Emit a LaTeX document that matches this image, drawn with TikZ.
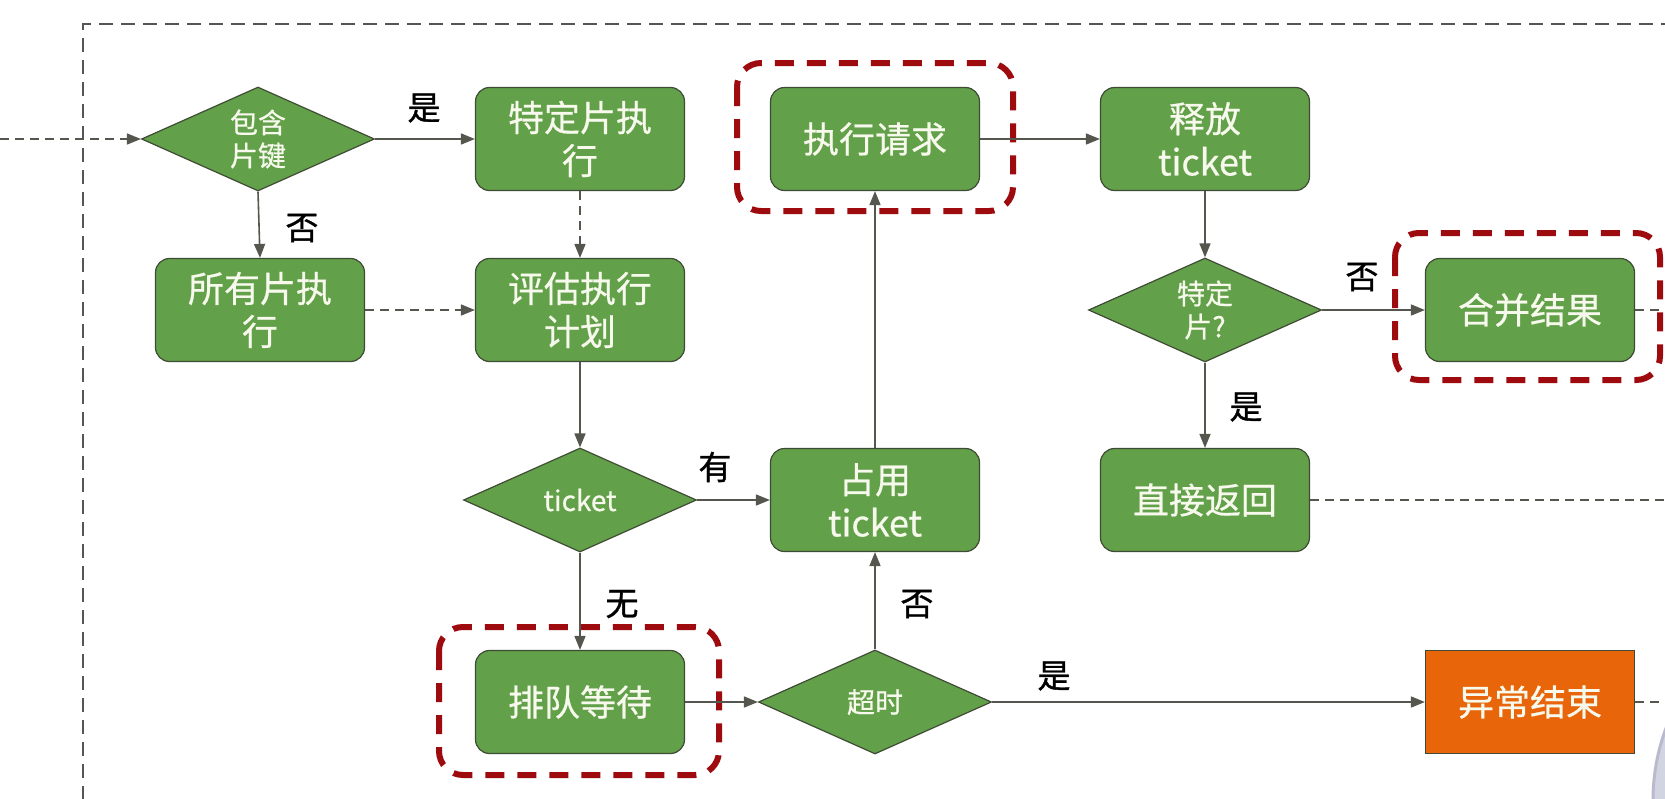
\documentclass[tikz,border=0pt]{standalone}
\usepackage{fontspec}
\setmainfont{Noto Sans CJK SC}
\newfontfamily\boxfont[FakeBold=0.6]{Noto Sans CJK SC}
\newfontfamily\tagfont[FakeBold=1.0]{Noto Sans CJK SC}
\usetikzlibrary{shapes.geometric,arrows.meta}

\definecolor{boxgreen}{HTML}{62A049}
\definecolor{boxedge}{HTML}{3F4B35}
\definecolor{boxtext}{HTML}{F6F9EC}
\definecolor{alarm}{HTML}{E8650A}
\definecolor{hilite}{HTML}{9E0B0F}
\definecolor{wire}{HTML}{55564D}
\definecolor{framegray}{HTML}{555555}
\definecolor{knob}{HTML}{D3D4E2}
\definecolor{knobedge}{HTML}{B9BBCC}

\tikzset{
  proc/.style={rectangle, rounded corners=14pt, draw=boxedge, line width=1.2pt,
    fill=boxgreen, text=boxtext, minimum width=209pt, minimum height=103pt,
    align=center, inner sep=0pt, font=\boxfont\fontsize{36}{43}\selectfont},
  finalbox/.style={proc, rounded corners=0pt, fill=alarm},
  decide/.style={diamond, shape aspect=2.24, draw=boxedge, line width=1.2pt,
    fill=boxgreen, text=boxtext, minimum width=233pt, minimum height=104pt,
    align=center, inner sep=0pt, font=\boxfont\fontsize{28}{33}\selectfont},
  flow/.style={draw=wire, line width=1.6pt, -{Triangle[length=14pt,width=11pt]}},
  softflow/.style={flow, dash pattern=on 9pt off 6pt},
  exitline/.style={draw=wire, line width=1.3pt, dash pattern=on 9pt off 6pt},
  hl/.style={draw=hilite, line width=6pt, dash pattern=on 19pt off 13pt, rounded corners=24pt},
  tag/.style={font=\tagfont\fontsize{33}{33}\selectfont, text=black, inner sep=0pt},
}

\begin{document}
\begin{tikzpicture}[x=1pt, y=-1pt]
\clip (0,0) rectangle (1665,798);
\fill[white] (0,0) rectangle (1665,798);

% open dashed frame around the flow
\draw[framegray, line width=1.3pt, dash pattern=on 14pt off 8pt] (83,800) -- (83,24) -- (1670,24);

% highlighted steps
\draw[hl] (737,63) rectangle (1013,211);
\draw[hl] (1395,233) rectangle (1660,380);
\draw[hl] (439,627) rectangle (719,775);

% nodes
\node[decide] (hasKey) at (258,139) {包含\\片键};
\node[proc] (oneShard) at (580,139) {特定片执\\行};
\node[proc] (allShards) at (260,310) {所有片执\\行};
\node[proc] (plan) at (580,310) {评估执行\\计划};
\node[decide] (ticket) at (580,500) {ticket};
\node[proc] (take) at (875,500) {占用\\ticket};
\node[proc] (queue) at (580,702) {排队等待};
\node[decide] (timeout) at (875,702) {超时};
\node[proc] (run) at (875,139) {执行请求};
\node[proc] (release) at (1205,139) {释放\\ticket};
\node[decide] (single) at (1205,310) {特定\\片?};
\node[proc] (merge) at (1530,310) {合并结果};
\node[proc] (direct) at (1205,500) {直接返回};
\node[finalbox] (fail) at (1530,702) {异常结束};

% entry and exits
\coordinate (entry) at (0,139);
\coordinate (mergeOut) at (1670,310);
\coordinate (directOut) at (1670,500);
\coordinate (failOut) at (1670,702);

\draw[softflow] (entry) -- (hasKey.west);
\draw[flow] (hasKey.east) -- (oneShard.west);
\draw[flow] (hasKey.south) -- (allShards.north);
\draw[softflow] (oneShard.south) -- (plan.north);
\draw[softflow] (allShards.east) -- (plan.west);
\draw[flow] (plan.south) -- (ticket.north);
\draw[flow] (ticket.east) -- (take.west);
\draw[flow] (ticket.south) -- (queue.north);
\draw[flow] (queue.east) -- (timeout.west);
\draw[flow] (timeout.north) -- (take.south);
\draw[flow] (timeout.east) -- (fail.west);
\draw[flow] (take.north) -- (run.south);
\draw[flow] (run.east) -- (release.west);
\draw[flow] (release.south) -- (single.north);
\draw[flow] (single.east) -- (merge.west);
\draw[flow] (single.south) -- (direct.north);

\draw[exitline] (merge.east) -- (mergeOut);
\draw[exitline] (direct.east) -- (directOut);
\draw[exitline] (fail.east) -- (failOut);

% branch labels
\node[tag] (yesShard) at (424,108) {是};
\node[tag] (noShard) at (302,228) {否};
\node[tag] (haveTicket) at (715,467) {有};
\node[tag] (noTicket) at (622,604) {无};
\node[tag] (notLate) at (917,604) {否};
\node[tag] (late) at (1054,676) {是};
\node[tag] (notSingle) at (1362,277) {否};
\node[tag] (isSingle) at (1246,407) {是};

% round control partly visible in the corner
\filldraw[fill=knob, draw=knobedge, line width=3pt] (1857,800) circle (204);
\end{tikzpicture}
\end{document}
